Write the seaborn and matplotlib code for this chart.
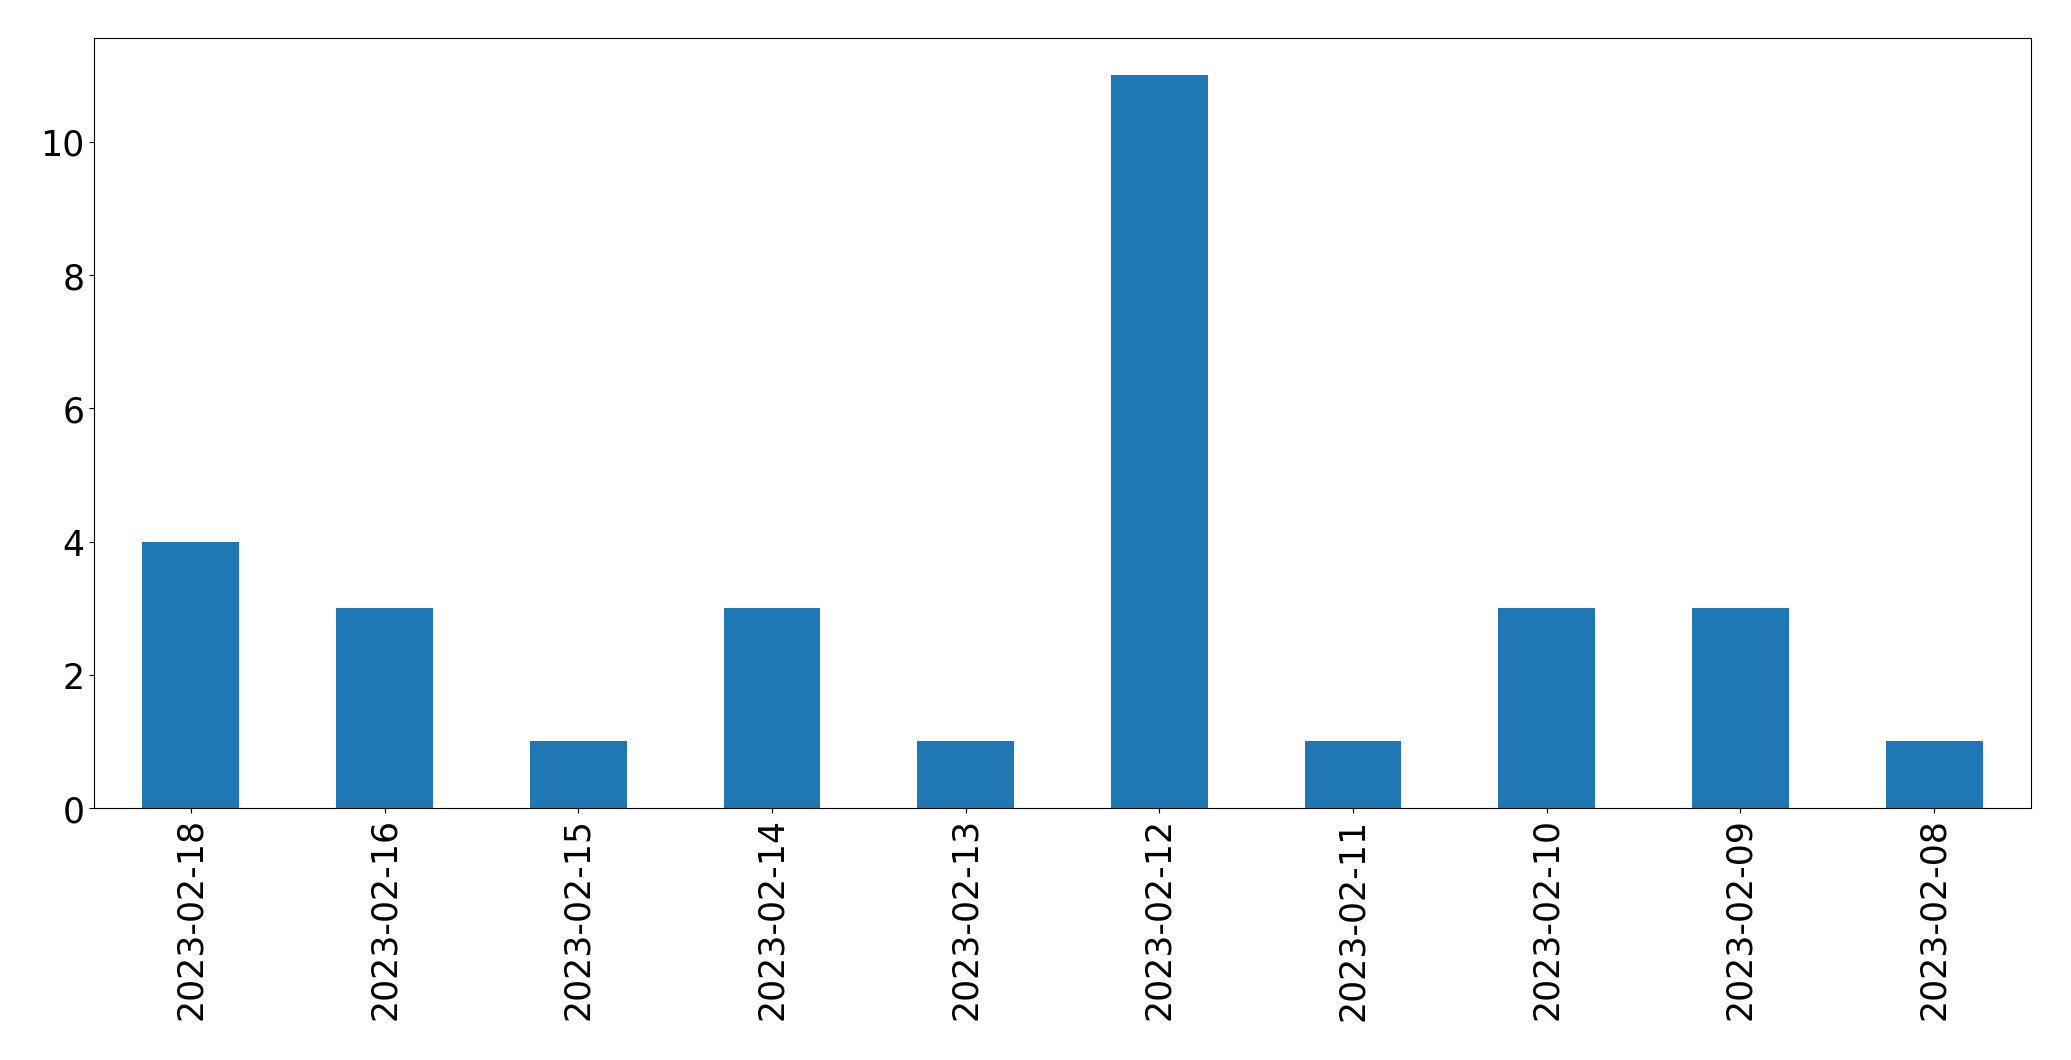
import matplotlib
matplotlib.use("Agg")
import matplotlib.pyplot as plt
import seaborn as sns
import pandas as pd

# counts per day, in the order shown on the chart
dates = ['2023-02-18', '2023-02-16', '2023-02-15', '2023-02-14', '2023-02-13',
         '2023-02-12', '2023-02-11', '2023-02-10', '2023-02-09', '2023-02-08']
counts = [4, 3, 1, 3, 1, 11, 1, 3, 3, 1]

df = pd.DataFrame({'date': dates, 'count': counts})

fig = plt.figure(figsize=(20.71, 10.605), dpi=100)
ax = fig.add_axes([94 / 2071, 1 - 809 / 1061, (2031 - 94) / 2071, (809 - 39) / 1061])

sns.barplot(data=df, x='date', y='count', order=dates, color='#1f77b4',
            saturation=1, width=0.5, linewidth=0, ax=ax)

ax.set_xlim(-0.5, len(dates) - 0.5)
ax.set_ylim(0, 11.55)
ax.set_xlabel('')
ax.set_ylabel('')
ax.tick_params(axis='both', labelsize=25)
plt.setp(ax.get_xticklabels(), rotation=90)

fig.savefig('out.png', dpi=100)
